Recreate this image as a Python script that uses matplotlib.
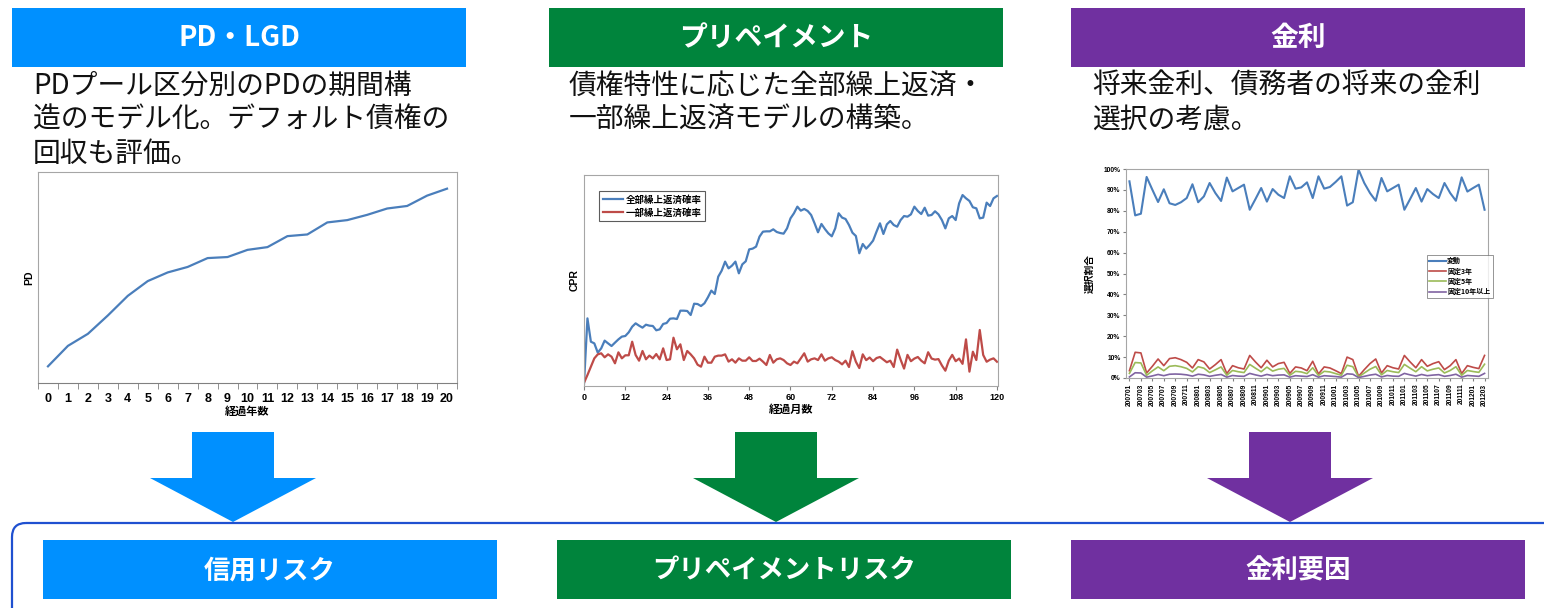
import numpy as np
import matplotlib.pyplot as plt
from matplotlib.patches import Rectangle, Polygon, FancyBboxPatch

plt.rcParams['font.family'] = ['Noto Sans CJK JP', 'DejaVu Sans']
NUM_FONT = ['Liberation Sans', 'Noto Sans CJK JP']

W, H = 1544, 608

# three columns: header, description, result box
col_colors = ['#0090FF', '#00843C', '#7030A0']
head_titles = ['PD・LGD', 'プリペイメント', '金利']
foot_titles = ['信用リスク', 'プリペイメントリスク', '金利要因']
descs = [
    ['PDプール区分別のPDの期間構', '造のモデル化。デフォルト債権の', '回収も評価。'],
    ['債権特性に応じた全部繰上返済・', '一部繰上返済モデルの構築。'],
    ['将来金利、債務者の将来の金利', '選択の考慮。'],
]

# PD term structure by elapsed year
pd_years = list(range(21))
pd_curve = [0.79, 1.76, 2.33, 3.20, 4.13, 4.83, 5.24, 5.50, 5.92, 5.97, 6.31,
            6.44, 6.96, 7.04, 7.61, 7.72, 7.97, 8.27, 8.39, 8.88, 9.21]

# CPR by elapsed month (0..120)
cpr_months = list(range(121))
cpr_full = [0.20, 6.41, 4.20, 4.04, 3.16, 3.57, 4.30, 4.04, 3.79, 4.11, 4.42,
            4.68, 4.74, 5.09, 5.62, 5.94, 5.72, 5.53, 5.81, 5.72, 5.69,
            5.28, 5.37, 5.88, 5.97, 6.38, 6.41, 6.35, 7.14, 7.14, 7.11,
            6.73, 7.80, 7.77, 7.58, 7.84, 8.40, 9.04, 8.72, 10.36, 10.93,
            11.79, 11.15, 11.41, 11.79, 10.68, 11.53, 11.82, 12.95, 13.02, 13.21,
            14.16, 14.63, 14.66, 14.66, 14.85, 14.60, 14.50, 14.44, 14.94, 15.89,
            16.37, 17.00, 16.62, 16.78, 16.59, 16.21, 15.42, 14.57, 15.36, 14.88,
            14.47, 14.19, 14.94, 16.37, 15.96, 15.83, 15.26, 14.53, 14.22, 12.58,
            13.46, 13.02, 13.37, 13.78, 14.63, 15.42, 14.41, 15.32, 15.64, 15.26,
            15.10, 15.73, 16.11, 16.05, 16.27, 17.00, 16.59, 16.30, 16.90, 16.15,
            16.21, 16.56, 16.27, 15.73, 14.94, 15.89, 16.11, 15.73, 17.31, 18.10,
            17.79, 17.54, 16.94, 16.84, 15.89, 15.96, 17.38, 17.06, 17.79, 18.01]
cpr_part = [0.30, 1.04, 1.83, 2.62, 3.00, 3.10, 2.72, 3.00, 2.78, 2.15, 3.19,
            2.62, 2.91, 2.91, 4.20, 2.94, 2.40, 3.32, 2.53, 2.88, 2.62,
            3.03, 2.53, 3.57, 2.46, 2.53, 4.58, 3.48, 3.95, 2.46, 3.32,
            3.00, 2.62, 2.02, 1.83, 2.78, 2.21, 2.21, 2.78, 2.88, 2.88,
            3.00, 2.31, 2.53, 2.21, 2.62, 2.40, 2.40, 2.72, 2.37, 2.37,
            2.59, 2.31, 1.99, 2.94, 2.21, 2.53, 2.62, 2.46, 2.15, 1.99,
            2.31, 2.15, 2.62, 3.10, 2.31, 2.53, 2.62, 2.46, 3.00, 2.40,
            2.62, 2.72, 2.46, 2.31, 2.05, 2.40, 1.80, 3.30, 2.30, 1.70,
            3.00, 2.45, 2.70, 2.35, 2.65, 2.75, 2.50, 2.25, 2.40, 1.80,
            3.45, 2.50, 1.65, 2.95, 2.35, 2.60, 2.75, 2.40, 2.15, 3.20,
            2.60, 2.50, 2.55, 1.95, 1.45, 2.40, 2.95, 2.35, 2.60, 2.10,
            4.42, 1.36, 3.25, 2.46, 5.31, 2.94, 2.30, 2.50, 2.62, 2.30]

# rate type selection share by month, 2007/01 .. 2012/03 (%)
rate_months = [f'{y}{m:02d}' for y in range(2007, 2013) for m in range(1, 13)][:63]
sel_float = [94.1, 77.8, 78.6, 96.2, 90.1, 84.2, 90.3, 83.6, 82.8, 84.1, 86.1,
             92.7, 84.1, 86.9, 93.3, 88.5, 84.7, 95.9, 89.3, 90.9, 92.5,
             80.5, 85.6, 90.9, 84.4, 90.4, 87.7, 86.1, 96.5, 90.6, 91.2,
             93.6, 86.1, 96.5, 90.6, 91.4, 93.8, 96.5, 82.5, 84.1, 99.7,
             93.3, 88.5, 84.8, 95.7, 89.3, 90.9, 92.5, 80.5, 85.6, 90.9,
             84.4, 90.4, 88.0, 86.1, 93.3, 88.5, 84.8, 96.0, 89.2, 90.9,
             92.5, 80.5]
sel_fix3 = [3.5, 12.3, 12.0, 2.4, 5.6, 9.1, 5.9, 9.3, 9.7, 8.8, 7.5,
            4.8, 8.8, 7.7, 4.3, 6.4, 8.8, 2.1, 5.9, 4.9, 4.3,
            10.8, 7.7, 4.9, 8.5, 5.3, 6.9, 7.5, 2.2, 5.3, 4.8,
            3.5, 8.0, 1.9, 5.3, 4.8, 3.5, 2.1, 10.0, 8.8, 0.8,
            4.0, 6.9, 9.1, 2.4, 5.9, 4.9, 4.3, 10.8, 7.7, 4.9,
            8.8, 5.6, 6.9, 7.8, 4.0, 5.9, 8.8, 2.1, 5.9, 5.1,
            4.5, 10.8]
sel_fix5 = [2.2, 7.4, 7.2, 1.3, 3.4, 5.3, 3.5, 5.6, 5.9, 5.4, 4.6,
            2.9, 5.4, 4.7, 2.6, 3.9, 5.3, 1.3, 3.6, 3.0, 2.6,
            6.5, 4.7, 3.0, 5.2, 3.3, 4.2, 4.6, 1.3, 3.2, 2.9,
            2.1, 4.9, 1.2, 3.2, 2.9, 2.1, 1.3, 6.1, 5.4, 0.5,
            2.4, 4.2, 5.5, 1.5, 3.6, 3.0, 2.6, 6.5, 4.7, 3.0,
            5.4, 3.4, 4.2, 4.8, 2.4, 3.6, 5.4, 1.3, 3.6, 3.1,
            2.7, 6.6]
sel_fix10 = [0.5, 2.5, 2.4, 0.4, 1.0, 1.7, 1.1, 1.8, 1.9, 1.8, 1.5,
             0.9, 1.8, 1.5, 0.8, 1.3, 1.7, 0.4, 1.2, 0.9, 0.8,
             2.2, 1.5, 0.9, 1.7, 1.1, 1.4, 1.5, 0.4, 1.1, 0.9,
             0.7, 1.6, 0.4, 1.1, 0.9, 0.7, 0.4, 2.0, 1.8, 0.2,
             0.8, 1.4, 1.8, 0.5, 1.2, 0.9, 0.8, 2.2, 1.5, 0.9,
             1.7, 1.1, 1.4, 1.6, 0.8, 1.2, 1.8, 0.4, 1.2, 1.0,
             0.8, 2.2]

fig = plt.figure(figsize=(W / 100, H / 100), dpi=100)

# background layer in pixel units for boxes, text and arrows
bg = fig.add_axes([0, 0, 1, 1])
bg.set_xlim(0, W)
bg.set_ylim(H, 0)
bg.axis('off')

box_w = 454
head_left = [12, 549, 1071]
foot_left = [43, 557, 1071]
arrow_cx = [233, 776, 1290]
text_x = [33, 569, 1092]
for i in range(3):
    c = col_colors[i]
    bg.add_patch(Rectangle((head_left[i], 8), box_w, 59, color=c, lw=0))
    bg.text(head_left[i] + box_w / 2, 38, head_titles[i], color='white',
            fontsize=20, fontweight='bold', ha='center', va='center')
    for j, line in enumerate(descs[i]):
        bg.text(text_x[i], 86 + j * 34, line, fontsize=20, color='#111111',
                ha='left', va='center')
    # down arrow
    cx = arrow_cx[i]
    bg.add_patch(Polygon([(cx - 41, 432), (cx + 41, 432), (cx + 41, 478),
                          (cx + 83, 478), (cx, 522), (cx - 83, 478),
                          (cx - 41, 478)], closed=True, color=c, lw=0))
    # result box
    bg.add_patch(Rectangle((foot_left[i], 540), box_w, 59, color=c, lw=0))
    bg.text(foot_left[i] + box_w / 2, 571, foot_titles[i], color='white',
            fontsize=19, fontweight='bold', ha='center', va='center')

bg.add_patch(FancyBboxPatch((12, 523), 1700, 200,
                            boxstyle='round,pad=0,rounding_size=14',
                            fc='none', ec='#1F50D0', lw=1.6))

box_gray = '#A6A6A6'


def frame(ax):
    for s in ax.spines.values():
        s.set_color(box_gray)
        s.set_linewidth(0.8)


# --- PD chart ---
ax1 = fig.add_axes([38 / W, 1 - 383 / H, 419 / W, 211 / H])
ax1.plot(pd_years, pd_curve, color='#4A7EBB', lw=1.6)
ax1.set_xlim(-0.5, 20.5)
ax1.set_ylim(0, 10)
frame(ax1)
ax1.spines['bottom'].set_color('#808080')
ax1.set_yticks([])
ax1.set_xticks(pd_years)
ax1.set_xticks(np.arange(-0.5, 21, 1), minor=True)
ax1.tick_params(axis='x', which='major', length=0, pad=7, labelsize=9)
ax1.tick_params(axis='x', which='minor', length=4, color='#808080')
for t in ax1.get_xticklabels():
    t.set_family(NUM_FONT)
    t.set_fontweight('bold')
ax1.set_xlabel('経過年数', fontsize=8, fontweight='bold', labelpad=0)
ax1.set_ylabel('PD', fontsize=7.5, fontweight='bold', family=NUM_FONT, labelpad=3)

# --- CPR chart ---
ax2 = fig.add_axes([584 / W, 1 - 386 / H, 414 / W, 211 / H])
ax2.plot(cpr_months, cpr_full, color='#4A7EBB', lw=1.6, label='全部繰上返済確率')
ax2.plot(cpr_months, cpr_part, color='#BE4B48', lw=1.6, label='一部繰上返済確率')
ax2.set_xlim(0, 120.3)
ax2.set_ylim(0, 20)
frame(ax2)
ax2.set_yticks([])
ax2.set_xticks(range(0, 121, 12))
ax2.tick_params(axis='x', length=3, color='#808080', pad=2, labelsize=6.5)
for t in ax2.get_xticklabels():
    t.set_family(NUM_FONT)
    t.set_fontweight('bold')
ax2.set_xlabel('経過月数', fontsize=8, fontweight='bold', labelpad=1)
ax2.set_ylabel('CPR', fontsize=7.5, fontweight='bold', family=NUM_FONT, labelpad=3)
leg2 = ax2.legend(loc='upper left', bbox_to_anchor=(0.036, 0.925), fontsize=6.8,
                  frameon=True, fancybox=False, edgecolor='#333333',
                  handlelength=2.2, handletextpad=0.2, borderpad=0.4,
                  labelspacing=0.3, borderaxespad=0)
leg2.get_frame().set_linewidth(0.8)
for t in leg2.get_texts():
    t.set_fontweight('bold')

# --- rate selection chart ---
ax3 = fig.add_axes([1126 / W, 1 - 378 / H, 362 / W, 209 / H])
x3 = np.arange(len(rate_months))
ax3.plot(x3, sel_float, color='#4A7EBB', lw=1.5, label='変動')
ax3.plot(x3, sel_fix3, color='#BE4B48', lw=1.2, label='固定3年')
ax3.plot(x3, sel_fix5, color='#9BBB59', lw=1.2, label='固定5年')
ax3.plot(x3, sel_fix10, color='#8064A2', lw=1.2, label='固定10年以上')
ax3.set_xlim(-0.6, 62.6)
ax3.set_ylim(0, 100)
frame(ax3)
ax3.set_yticks(range(0, 101, 10))
ax3.set_yticklabels([f'{v}%' for v in range(0, 101, 10)])
ax3.set_xticks(x3[::2])
ax3.set_xticklabels(rate_months[::2], rotation=90)
ax3.tick_params(axis='y', length=2, color='#808080', pad=2, labelsize=4.8)
ax3.tick_params(axis='x', length=2, color='#808080', pad=2, labelsize=4.8)
for t in ax3.get_xticklabels() + ax3.get_yticklabels():
    t.set_family(NUM_FONT)
    t.set_fontweight('bold')
ax3.set_ylabel('選択割合', fontsize=7, fontweight='bold', labelpad=6)
leg3 = ax3.legend(loc='upper left', bbox_to_anchor=(0.831, 0.589), fontsize=5,
                  frameon=True, fancybox=False, edgecolor='#666666',
                  handlelength=2.4, handletextpad=0.2, borderpad=0.35,
                  labelspacing=0.45, borderaxespad=0)
leg3.get_frame().set_linewidth(0.6)
for t in leg3.get_texts():
    t.set_fontweight('bold')

fig.savefig('out.png', dpi=100, facecolor='white')
